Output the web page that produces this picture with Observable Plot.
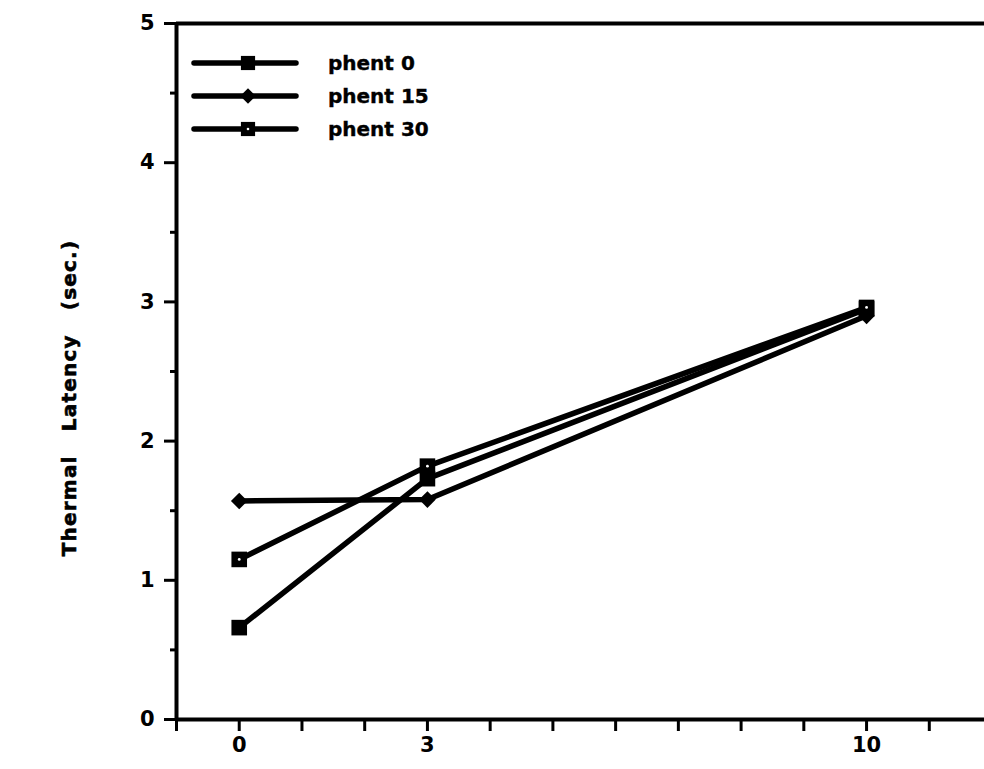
<!DOCTYPE html>
<html>
<head>
<meta charset="utf-8">
<script src="https://cdn.jsdelivr.net/npm/d3@7"></script>
<script src="https://cdn.jsdelivr.net/npm/@observablehq/plot@0.6"></script>
<style>
  body { margin: 0; background: #fff; }
  #wrap { position: relative; width: 984px; height: 769px; font-family: "DejaVu Sans", "Liberation Sans", sans-serif; font-weight: bold; color: #000; }
  #ylabel { position: absolute; left: 69px; top: 398px; transform: translate(-50%, -50%) rotate(-90deg); white-space: nowrap; font-size: 20px; letter-spacing: 1.2px; word-spacing: 16px; -webkit-text-stroke: 0.6px #000; }
  #legend { position: absolute; left: 190px; top: 46px; }
  .row { display: flex; align-items: center; height: 33px; font-size: 20px; -webkit-text-stroke: 0.4px #000; }
  .row span { margin-left: 28px; }
  svg text { stroke: none; }
</style>
</head>
<body>
<div id="wrap"><div id="ylabel"></div><div id="legend"></div></div>
<script>
// ---- data ----
const doses = [0, 3, 10];
const seriesNames = ["phent 0", "phent 15", "phent 30"];
const phent0 = [0.66, 1.73, 2.95];
const phent15 = [1.57, 1.58, 2.90];
const phent30 = [1.15, 1.82, 2.96];
const seriesSymbols = ["square", "diamond2", "square"];
const xTickValues = [-1, 0, 1, 2, 3, 4, 5, 6, 7, 8, 9, 10, 11];
const xTickLabels = [0, 3, 10];
const yTickValues = [0, 1, 2, 3, 4, 5];
const yMinorTicks = [0.5, 1.5, 2.5, 3.5, 4.5];
const yLabelText = "Thermal Latency (sec.)";

const seriesValues = [phent0, phent15, phent30];
const data = seriesNames.flatMap((name, i) =>
  doses.map((d, j) => ({ series: name, dose: d, value: seriesValues[i][j] }))
);

const font = '"DejaVu Sans", "Liberation Sans", sans-serif';

const chart = Plot.plot({
  width: 984,
  height: 769,
  marginLeft: 176,
  marginRight: 0,
  marginTop: 23,
  marginBottom: 50,
  style: { fontFamily: font, fontWeight: "bold", fontSize: "21px", color: "#000", background: "#fff" },
  x: { domain: [-1, 11.88], label: null },
  y: { domain: [0, 5], label: null },
  marks: [
    Plot.ruleY([5], { stroke: "black", strokeWidth: 4 }),
    Plot.ruleY([0], { stroke: "black", strokeWidth: 4 }),
    Plot.ruleX([-1], { y1: 0, y2: 5, stroke: "black", strokeWidth: 4 }),
    Plot.axisX({ ticks: xTickValues, tickSize: 12, tickPadding: 6, strokeWidth: 3,
      tickFormat: d => xTickLabels.includes(d) ? String(d) : "", fontSize: 21, fontWeight: "bold", label: null }),
    Plot.axisY({ ticks: yTickValues, tickSize: 12, tickPadding: 10, strokeWidth: 3,
      tickFormat: d => String(d), fontSize: 21, fontWeight: "bold", label: null }),
    Plot.axisY({ ticks: yMinorTicks, tickSize: 6, strokeWidth: 3, tickFormat: () => "", label: null }),
    Plot.line(data, { x: "dose", y: "value", z: "series", stroke: "black", strokeWidth: 5.5, strokeLinejoin: "round", strokeLinecap: "round" }),
    Plot.dot(data.filter(d => d.series === seriesNames[0]), { x: "dose", y: "value", symbol: seriesSymbols[0], r: 8.8, fill: "black" }),
    Plot.dot(data.filter(d => d.series === seriesNames[1]), { x: "dose", y: "value", symbol: seriesSymbols[1], r: 7.5, fill: "black" }),
    Plot.dot(data.filter(d => d.series === seriesNames[2]), { x: "dose", y: "value", symbol: seriesSymbols[2], r: 8.8, fill: "black" }),
    Plot.dot(data.filter(d => d.series === seriesNames[2]), { x: "dose", y: "value", r: 1.4, fill: "white" })
  ]
});

const wrap = document.getElementById("wrap");
wrap.insertBefore(chart, wrap.firstChild);
chart.style.position = "absolute";
chart.style.left = "0";
chart.style.top = "0";

document.getElementById("ylabel").textContent = yLabelText;

// legend
const legend = document.getElementById("legend");
const ns = "http://www.w3.org/2000/svg";
seriesNames.forEach((name, i) => {
  const row = document.createElement("div");
  row.className = "row";
  const svg = document.createElementNS(ns, "svg");
  svg.setAttribute("width", "110");
  svg.setAttribute("height", "24");
  const line = document.createElementNS(ns, "line");
  line.setAttribute("x1", "4"); line.setAttribute("x2", "106");
  line.setAttribute("y1", "12"); line.setAttribute("y2", "12");
  line.setAttribute("stroke", "black"); line.setAttribute("stroke-width", "5.5");
  line.setAttribute("stroke-linecap", "round");
  svg.appendChild(line);
  const sym = seriesSymbols[i] === "square" ? d3.symbolSquare : d3.symbolDiamond2;
  const r = seriesSymbols[i] === "square" ? 8 : 7;
  const p = document.createElementNS(ns, "path");
  p.setAttribute("d", d3.symbol(sym, Math.PI * r * r)());
  p.setAttribute("transform", "translate(58,12)");
  p.setAttribute("fill", "black");
  svg.appendChild(p);
  if (i === 2) {
    const c = document.createElementNS(ns, "circle");
    c.setAttribute("cx", "58"); c.setAttribute("cy", "12"); c.setAttribute("r", "1.3");
    c.setAttribute("fill", "white");
    svg.appendChild(c);
  }
  row.appendChild(svg);
  const t = document.createElement("span");
  t.textContent = name;
  row.appendChild(t);
  legend.appendChild(row);
});
</script>
</body>
</html>
